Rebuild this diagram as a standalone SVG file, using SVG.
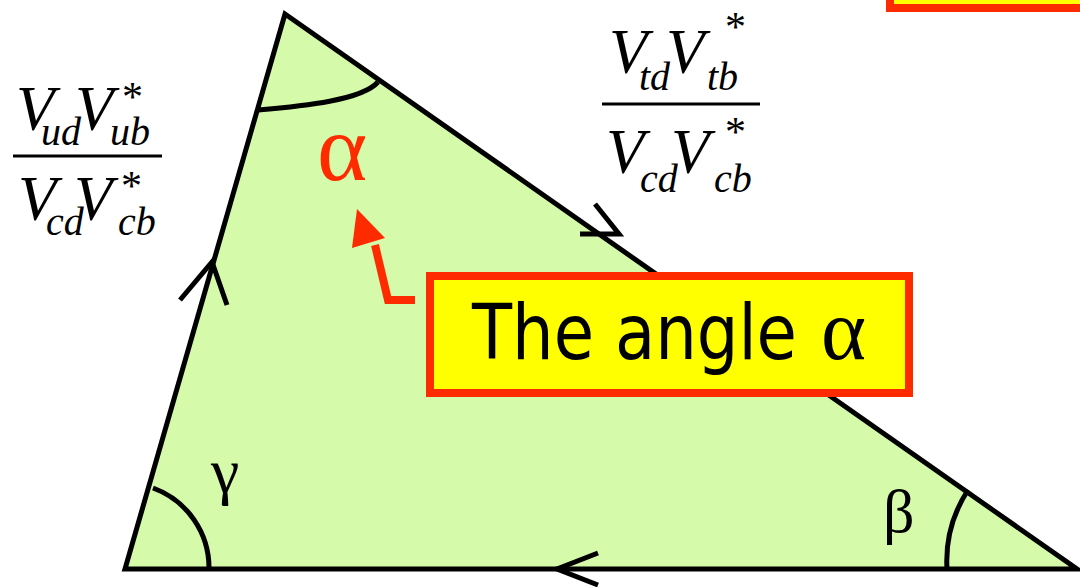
<svg xmlns="http://www.w3.org/2000/svg" width="1080" height="587" viewBox="0 0 1080 587">
<style>
.edge{fill:none;stroke:#000;stroke-width:5;stroke-linejoin:miter;stroke-linecap:butt}
.arc{fill:none;stroke:#000;stroke-width:5}
.v{font-family:"Liberation Serif","Times New Roman",serif;font-style:italic;font-size:63px;fill:#000}
.s{font-family:"Liberation Serif","Times New Roman",serif;font-style:italic;font-size:40px;fill:#000}
.st{font-family:"Liberation Serif","Times New Roman",serif;font-size:42px;fill:#000}
.greek{font-family:"Liberation Serif","Times New Roman",serif;fill:#000}
.red{fill:#FF2B00}
</style>
<rect width="1080" height="587" fill="#fff"/>
<g id="corner-box">
<rect x="890" y="-100" width="300" height="108" fill="#FFFF00" stroke="#FF2B00" stroke-width="8"/>
</g>
<g id="triangle">
<polygon points="285,14 125,569 1077,569" fill="#D4FAAA" stroke="#000" stroke-width="5" stroke-linejoin="miter"/>
<path class="arc" d="M258,110 C305,106 362,100 378,82"/>
<path class="arc" d="M153,488 A85,85 0 0 1 209,569"/>
<path class="arc" d="M968,490 A131,131 0 0 0 947,569"/>
</g>
<g id="connectors">
<polyline class="edge" points="180,300 212,262 227,305"/>
<polyline class="edge" points="580,234 619,234 595,204"/>
<polyline class="edge" points="598,553 557,569 598,585"/>
<polyline points="415,300 388,300 375,245" fill="none" stroke="#FF2B00" stroke-width="8" stroke-linejoin="miter"/>
<polygon points="357,209 352,248 385,238" class="red"/>
</g>
<g id="alpha-label">
<text x="317" y="180" class="greek red" font-size="96">α</text>
</g>
<g id="gamma-label">
<text x="211" y="492" class="greek" font-size="64">γ</text>
</g>
<g id="beta-label">
<text x="883" y="532" class="greek" font-size="62">β</text>
</g>
<g id="left-ratio">
<text x="16" y="130" class="v">V</text>
<text x="41" y="145" class="s">ud</text>
<text x="75" y="130" class="v">V</text>
<text x="122" y="111" class="st">*</text>
<text x="110" y="145" class="s">ub</text>
<line x1="13" y1="156" x2="162" y2="156" stroke="#000" stroke-width="3"/>
<text x="18" y="220" class="v">V</text>
<text x="46" y="235" class="s">cd</text>
<text x="74" y="220" class="v">V</text>
<text x="121" y="200" class="st">*</text>
<text x="118" y="235" class="s">cb</text>
</g>
<g id="right-ratio">
<text x="609" y="73" class="v">V</text>
<text x="639" y="90" class="s">td</text>
<text x="666" y="73" class="v">V</text>
<text x="725" y="41" class="st">*</text>
<text x="707" y="90" class="s">tb</text>
<line x1="602" y1="104" x2="760" y2="104" stroke="#000" stroke-width="3"/>
<text x="606" y="173" class="v">V</text>
<text x="640" y="192" class="s">cd</text>
<text x="671" y="173" class="v">V</text>
<text x="725" y="146" class="st">*</text>
<text x="714" y="192" class="s">cb</text>
</g>
<g id="angle-box">
<rect x="430" y="276" width="479" height="117" fill="#FFFF00" stroke="#FF2B00" stroke-width="8"/>
<text x="472" y="359" font-family="DejaVu Sans, Verdana, sans-serif" font-size="76" textLength="325" lengthAdjust="spacingAndGlyphs" fill="#000">The angle</text>
<text x="821" y="359" class="greek" font-size="86">α</text>
</g>
</svg>
